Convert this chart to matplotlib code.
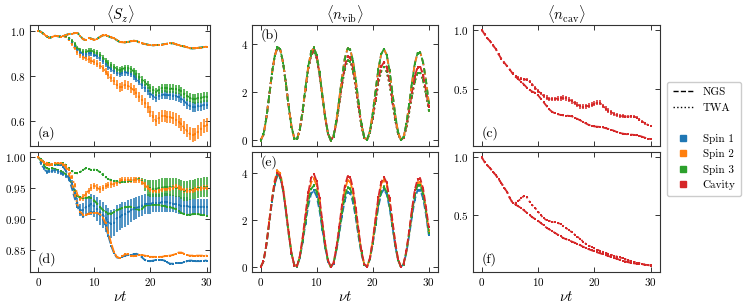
import numpy as np
import matplotlib
matplotlib.use("Agg")
import matplotlib.pyplot as plt
from matplotlib.lines import Line2D

plt.rcParams["font.family"] = "serif"
plt.rcParams["font.serif"] = ["cmr10"]
plt.rcParams["mathtext.fontset"] = "cm"
plt.rcParams["axes.formatter.use_mathtext"] = True

# time grid (nu t), sampled every 0.5
t = np.linspace(0, 30, 61)

labels = ["Spin 1", "Spin 2", "Spin 3", "Cavity"]
colors = ["#1f77b4", "#ff7f0e", "#2ca02c", "#d62728"]

# ---- (a) <S_z>, first case ----
sz_a_ngs = [1.000, 0.995, 0.985, 0.975, 0.968, 0.972, 0.977, 0.975, 0.973, 0.976,
            0.981, 0.985, 0.987, 0.989, 0.990, 0.976, 0.962, 0.958, 0.968, 0.964,
            0.959, 0.964, 0.972, 0.979, 0.979, 0.975, 0.970, 0.966, 0.958, 0.950,
            0.948, 0.948, 0.950, 0.952, 0.955, 0.954, 0.948, 0.943, 0.941, 0.938,
            0.936, 0.935, 0.936, 0.937, 0.938, 0.940, 0.942, 0.943, 0.944, 0.940,
            0.935, 0.932, 0.930, 0.926, 0.922, 0.921, 0.922, 0.924, 0.925, 0.927,
            0.929]
sz_a_twa_spin1 = [1.000, 0.995, 0.985, 0.975, 0.968, 0.972, 0.977, 0.975, 0.973, 0.976,
                  0.974, 0.965, 0.950, 0.933, 0.917, 0.905, 0.898, 0.896, 0.899, 0.899,
                  0.893, 0.886, 0.877, 0.866, 0.853, 0.840, 0.830, 0.820, 0.812, 0.808,
                  0.812, 0.815, 0.813, 0.808, 0.799, 0.787, 0.773, 0.759, 0.746, 0.733,
                  0.720, 0.708, 0.702, 0.710, 0.716, 0.716, 0.714, 0.713, 0.712, 0.709,
                  0.705, 0.697, 0.686, 0.675, 0.667, 0.662, 0.661, 0.664, 0.667, 0.670,
                  0.672]
sz_a_twa_spin2 = [1.000, 0.995, 0.985, 0.975, 0.968, 0.972, 0.977, 0.975, 0.973, 0.975,
                  0.970, 0.958, 0.942, 0.922, 0.905, 0.890, 0.882, 0.877, 0.872, 0.867,
                  0.861, 0.853, 0.845, 0.833, 0.818, 0.802, 0.789, 0.775, 0.760, 0.748,
                  0.752, 0.760, 0.755, 0.746, 0.736, 0.722, 0.707, 0.692, 0.678, 0.660,
                  0.640, 0.618, 0.600, 0.612, 0.622, 0.620, 0.617, 0.615, 0.612, 0.605,
                  0.596, 0.585, 0.570, 0.555, 0.543, 0.536, 0.540, 0.552, 0.565, 0.575,
                  0.580]
sz_a_twa_spin3 = [1.000, 0.995, 0.985, 0.975, 0.968, 0.972, 0.977, 0.975, 0.973, 0.976,
                  0.975, 0.968, 0.955, 0.940, 0.925, 0.914, 0.907, 0.906, 0.910, 0.911,
                  0.905, 0.900, 0.892, 0.880, 0.866, 0.855, 0.846, 0.838, 0.830, 0.825,
                  0.830, 0.834, 0.833, 0.828, 0.820, 0.808, 0.795, 0.782, 0.770, 0.758,
                  0.745, 0.735, 0.729, 0.738, 0.744, 0.745, 0.744, 0.743, 0.742, 0.740,
                  0.737, 0.730, 0.720, 0.710, 0.703, 0.698, 0.697, 0.700, 0.703, 0.706,
                  0.707]
err_a_spin13 = [0, 0, 0, 0, 0, 0, 0, 0, 0, 0.001,
                0.003, 0.005, 0.006, 0.008, 0.009, 0.010, 0.010, 0.011, 0.011, 0.011,
                0.012, 0.012, 0.012, 0.013, 0.013, 0.013, 0.013, 0.014, 0.014, 0.014,
                0.014, 0.015, 0.015, 0.015, 0.016, 0.016, 0.016, 0.017, 0.017, 0.017,
                0.018, 0.018, 0.018, 0.018, 0.019, 0.019, 0.019, 0.019, 0.020, 0.020,
                0.020, 0.020, 0.020, 0.021, 0.021, 0.021, 0.021, 0.021, 0.022, 0.022,
                0.022]
err_a_spin2 = [0, 0, 0, 0, 0, 0, 0, 0, 0, 0.001,
               0.004, 0.006, 0.008, 0.010, 0.011, 0.012, 0.013, 0.013, 0.014, 0.014,
               0.015, 0.015, 0.016, 0.016, 0.017, 0.017, 0.018, 0.018, 0.019, 0.019,
               0.020, 0.020, 0.020, 0.021, 0.021, 0.022, 0.022, 0.023, 0.023, 0.024,
               0.024, 0.025, 0.025, 0.026, 0.026, 0.027, 0.027, 0.027, 0.028, 0.028,
               0.028, 0.029, 0.029, 0.029, 0.030, 0.030, 0.030, 0.031, 0.031, 0.031,
               0.032]

# ---- (d) <S_z>, second case ----
sz_d_ngs_spin1 = [1.000, 0.996, 0.991, 0.988, 0.987, 0.988, 0.988, 0.988, 0.987, 0.984,
                  0.977, 0.965, 0.950, 0.934, 0.920, 0.910, 0.905, 0.906, 0.909, 0.911,
                  0.911, 0.910, 0.907, 0.900, 0.889, 0.873, 0.857, 0.845, 0.838, 0.837,
                  0.839, 0.841, 0.842, 0.842, 0.843, 0.844, 0.842, 0.838, 0.834, 0.832,
                  0.832, 0.833, 0.834, 0.834, 0.834, 0.833, 0.830, 0.828, 0.828, 0.829,
                  0.829, 0.829, 0.830, 0.832, 0.833, 0.833, 0.832, 0.832, 0.832, 0.833,
                  0.833]
sz_d_ngs_spin2 = [1.000, 0.996, 0.991, 0.988, 0.987, 0.988, 0.989, 0.990, 0.990, 0.988,
                  0.983, 0.973, 0.958, 0.940, 0.924, 0.912, 0.907, 0.907, 0.909, 0.910,
                  0.910, 0.910, 0.908, 0.903, 0.893, 0.878, 0.861, 0.847, 0.839, 0.837,
                  0.840, 0.843, 0.843, 0.841, 0.840, 0.841, 0.842, 0.842, 0.841, 0.840,
                  0.839, 0.839, 0.839, 0.839, 0.839, 0.840, 0.841, 0.841, 0.842, 0.844,
                  0.846, 0.846, 0.844, 0.842, 0.841, 0.841, 0.841, 0.841, 0.841, 0.841,
                  0.841]
sz_d_ngs_spin3 = [1.000, 0.994, 0.987, 0.982, 0.981, 0.982, 0.981, 0.979, 0.977, 0.975,
                  0.972, 0.966, 0.957, 0.945, 0.937, 0.935, 0.934, 0.934, 0.935, 0.934,
                  0.930, 0.925, 0.920, 0.915, 0.911, 0.909, 0.909, 0.911, 0.914, 0.916,
                  0.918, 0.919, 0.920, 0.920, 0.918, 0.916, 0.915, 0.917, 0.921, 0.923,
                  0.923, 0.923, 0.923, 0.923, 0.922, 0.921, 0.920, 0.919, 0.918, 0.916,
                  0.913, 0.910, 0.908, 0.907, 0.907, 0.908, 0.908, 0.908, 0.907, 0.906,
                  0.905]
sz_d_twa_spin1 = [1.000, 0.990, 0.982, 0.976, 0.977, 0.978, 0.979, 0.977, 0.975, 0.973,
                  0.970, 0.966, 0.958, 0.943, 0.926, 0.915, 0.914, 0.919, 0.922, 0.924,
                  0.921, 0.916, 0.911, 0.907, 0.901, 0.896, 0.892, 0.894, 0.901, 0.904,
                  0.906, 0.908, 0.911, 0.914, 0.916, 0.918, 0.920, 0.922, 0.924, 0.925,
                  0.925, 0.926, 0.926, 0.926, 0.927, 0.927, 0.927, 0.926, 0.925, 0.924,
                  0.923, 0.922, 0.921, 0.921, 0.920, 0.920, 0.920, 0.920, 0.920, 0.920,
                  0.920]
sz_d_twa_spin2 = [1.000, 0.996, 0.992, 0.990, 0.989, 0.989, 0.990, 0.990, 0.990, 0.989,
                  0.986, 0.980, 0.968, 0.955, 0.940, 0.933, 0.935, 0.941, 0.946, 0.951,
                  0.954, 0.951, 0.948, 0.950, 0.953, 0.955, 0.956, 0.957, 0.959, 0.962,
                  0.963, 0.963, 0.963, 0.963, 0.963, 0.963, 0.963, 0.960, 0.955, 0.951,
                  0.948, 0.946, 0.946, 0.947, 0.948, 0.949, 0.949, 0.950, 0.951, 0.952,
                  0.951, 0.949, 0.947, 0.946, 0.946, 0.947, 0.948, 0.949, 0.950, 0.951,
                  0.951]
sz_d_twa_spin3 = [1.000, 0.997, 0.993, 0.991, 0.990, 0.989, 0.989, 0.989, 0.990, 0.990,
                  0.987, 0.982, 0.978, 0.975, 0.974, 0.976, 0.980, 0.982, 0.981, 0.980,
                  0.980, 0.979, 0.976, 0.972, 0.968, 0.965, 0.963, 0.962, 0.961, 0.960,
                  0.960, 0.960, 0.961, 0.962, 0.963, 0.964, 0.965, 0.962, 0.955, 0.951,
                  0.950, 0.949, 0.949, 0.950, 0.951, 0.952, 0.952, 0.952, 0.952, 0.951,
                  0.950, 0.948, 0.946, 0.946, 0.947, 0.948, 0.949, 0.950, 0.951, 0.952,
                  0.952]
err_d_spin1 = [0.000, 0.002, 0.003, 0.003, 0.003, 0.003, 0.004, 0.004, 0.004, 0.004,
               0.004, 0.005, 0.005, 0.006, 0.008, 0.010, 0.012, 0.014, 0.015, 0.017,
               0.018, 0.019, 0.020, 0.021, 0.022, 0.022, 0.023, 0.022, 0.022, 0.021,
               0.021, 0.020, 0.020, 0.019, 0.018, 0.018, 0.017, 0.017, 0.016, 0.016,
               0.016, 0.015, 0.015, 0.015, 0.015, 0.015, 0.015, 0.014, 0.014, 0.014,
               0.014, 0.014, 0.014, 0.014, 0.013, 0.013, 0.013, 0.013, 0.013, 0.013,
               0.013]
err_d_spin2 = [0.000, 0.001, 0.001, 0.001, 0.001, 0.001, 0.001, 0.001, 0.001, 0.001,
               0.002, 0.002, 0.003, 0.003, 0.004, 0.004, 0.005, 0.005, 0.005, 0.005,
               0.005, 0.005, 0.005, 0.005, 0.005, 0.005, 0.005, 0.005, 0.005, 0.005,
               0.005, 0.005, 0.005, 0.005, 0.005, 0.005, 0.005, 0.005, 0.005, 0.004,
               0.004, 0.004, 0.004, 0.004, 0.004, 0.004, 0.004, 0.004, 0.004, 0.004,
               0.004, 0.004, 0.004, 0.004, 0.004, 0.004, 0.004, 0.004, 0.004, 0.004,
               0.004]
err_d_spin3 = [0.000, 0.001, 0.001, 0.001, 0.001, 0.001, 0.001, 0.001, 0.001, 0.001,
               0.001, 0.001, 0.001, 0.001, 0.001, 0.001, 0.001, 0.001, 0.001, 0.001,
               0.001, 0.001, 0.002, 0.002, 0.002, 0.002, 0.002, 0.002, 0.002, 0.002,
               0.002, 0.002, 0.002, 0.002, 0.002, 0.003, 0.003, 0.005, 0.010, 0.013,
               0.014, 0.014, 0.014, 0.015, 0.015, 0.015, 0.015, 0.015, 0.015, 0.015,
               0.015, 0.016, 0.016, 0.016, 0.016, 0.016, 0.016, 0.016, 0.016, 0.016,
               0.016]
err_d_ngs = 0.0015

# ---- (b) <n_vib>, first case ----
nvib_b_ngs_spins = [0.00, 0.24, 0.90, 1.81, 2.76, 3.51, 3.88, 3.78, 3.23, 2.36,
                    1.40, 0.57, 0.08, 0.05, 0.47, 1.26, 2.21, 3.08, 3.68, 3.85,
                    3.54, 2.84, 1.91, 0.99, 0.30, 0.00, 0.18, 0.80, 1.67, 2.60,
                    3.39, 3.81, 3.77, 3.27, 2.46, 1.50, 0.65, 0.12, 0.02, 0.39,
                    1.12, 2.06, 2.94, 3.58, 3.80, 3.55, 2.90, 2.00, 1.08, 0.36,
                    0.02, 0.13, 0.67, 1.49, 2.39, 3.18, 3.63, 3.64, 3.23, 2.49,
                    1.57]
nvib_b_cav = [0.00, 0.24, 0.90, 1.81, 2.76, 3.51, 3.88, 3.78, 3.23, 2.36,
              1.40, 0.57, 0.08, 0.05, 0.46, 1.23, 2.15, 3.00, 3.59, 3.75,
              3.45, 2.77, 1.86, 0.97, 0.29, 0.00, 0.16, 0.72, 1.52, 2.37,
              3.08, 3.47, 3.43, 2.98, 2.23, 1.36, 0.60, 0.11, 0.02, 0.33,
              0.96, 1.76, 2.52, 3.06, 3.25, 3.04, 2.48, 1.71, 0.92, 0.31,
              0.01, 0.11, 0.56, 1.25, 2.00, 2.67, 3.04, 3.05, 2.71, 2.08,
              1.40]
nvib_b_twa_spins = [0.00, 0.24, 0.90, 1.81, 2.76, 3.51, 3.88, 3.78, 3.23, 2.36,
                    1.40, 0.57, 0.08, 0.05, 0.46, 1.21, 2.12, 2.96, 3.54, 3.70,
                    3.40, 2.73, 1.84, 0.95, 0.29, 0.00, 0.15, 0.69, 1.45, 2.26,
                    2.95, 3.32, 3.28, 2.85, 2.14, 1.30, 0.57, 0.10, 0.02, 0.31,
                    0.90, 1.65, 2.36, 2.87, 3.05, 2.85, 2.33, 1.61, 0.86, 0.29,
                    0.01, 0.10, 0.51, 1.15, 1.84, 2.45, 2.80, 2.80, 2.49, 1.92,
                    1.25]

# ---- (e) <n_vib>, second case ----
nvib_e_spin1 = [0.00, 0.24, 0.90, 1.81, 2.76, 3.51, 3.88, 3.78, 3.23, 2.36,
                1.40, 0.57, 0.08, 0.04, 0.40, 1.06, 1.86, 2.60, 3.11, 3.25,
                2.99, 2.40, 1.61, 0.84, 0.25, 0.00, 0.15, 0.66, 1.39, 2.16,
                2.82, 3.17, 3.13, 2.72, 2.04, 1.24, 0.54, 0.10, 0.02, 0.34,
                0.98, 1.79, 2.55, 3.11, 3.30, 3.08, 2.52, 1.74, 0.93, 0.31,
                0.01, 0.11, 0.60, 1.33, 2.14, 2.86, 3.26, 3.26, 2.90, 2.23,
                1.37]
nvib_e_spin2 = [0.00, 0.25, 0.94, 1.91, 2.90, 3.69, 4.08, 3.97, 3.39, 2.48,
                1.47, 0.60, 0.08, 0.05, 0.46, 1.23, 2.15, 3.00, 3.59, 3.75,
                3.45, 2.77, 1.86, 0.97, 0.29, 0.00, 0.17, 0.77, 1.61, 2.50,
                3.26, 3.66, 3.62, 3.15, 2.36, 1.44, 0.63, 0.11, 0.02, 0.38,
                1.10, 2.00, 2.86, 3.48, 3.70, 3.46, 2.82, 1.95, 1.05, 0.35,
                0.01, 0.12, 0.66, 1.47, 2.36, 3.14, 3.58, 3.59, 3.19, 2.45,
                1.55]
nvib_e_spin3 = [0.00, 0.24, 0.91, 1.84, 2.80, 3.56, 3.93, 3.82, 3.27, 2.39,
                1.41, 0.58, 0.08, 0.04, 0.43, 1.13, 1.98, 2.77, 3.31, 3.46,
                3.18, 2.55, 1.72, 0.89, 0.27, 0.00, 0.16, 0.70, 1.47, 2.29,
                2.98, 3.36, 3.32, 2.88, 2.16, 1.32, 0.58, 0.10, 0.02, 0.35,
                1.01, 1.84, 2.63, 3.20, 3.40, 3.18, 2.59, 1.79, 0.96, 0.32,
                0.01, 0.12, 0.64, 1.42, 2.28, 3.04, 3.46, 3.47, 3.08, 2.37,
                1.45]
nvib_e_cav = [0.00, 0.24, 0.92, 1.86, 2.83, 3.60, 3.98, 3.87, 3.31, 2.42,
              1.43, 0.58, 0.08, 0.05, 0.49, 1.29, 2.26, 3.16, 3.78, 3.95,
              3.63, 2.92, 1.96, 1.02, 0.31, 0.00, 0.18, 0.80, 1.68, 2.62,
              3.41, 3.84, 3.80, 3.30, 2.48, 1.51, 0.66, 0.12, 0.02, 0.39,
              1.13, 2.07, 2.96, 3.59, 3.82, 3.57, 2.91, 2.01, 1.08, 0.36,
              0.02, 0.13, 0.68, 1.53, 2.45, 3.27, 3.73, 3.74, 3.32, 2.55,
              1.70]
err_nvib = 0.06

# ---- (c) and (f) <n_cav> ----
ncav_c_twa = [1.000, 0.965, 0.930, 0.905, 0.870, 0.840, 0.795, 0.755, 0.725, 0.695,
              0.665, 0.635, 0.612, 0.598, 0.590, 0.585, 0.580, 0.565, 0.540, 0.510,
              0.485, 0.465, 0.445, 0.430, 0.420, 0.418, 0.420, 0.422, 0.425, 0.430,
              0.425, 0.412, 0.400, 0.385, 0.370, 0.358, 0.352, 0.355, 0.362, 0.370,
              0.378, 0.385, 0.385, 0.360, 0.338, 0.320, 0.305, 0.292, 0.282, 0.275,
              0.272, 0.270, 0.270, 0.271, 0.270, 0.262, 0.245, 0.228, 0.213, 0.200,
              0.192]
ncav_c_ngs = [1.000, 0.965, 0.930, 0.905, 0.870, 0.840, 0.795, 0.755, 0.725, 0.695,
              0.665, 0.632, 0.605, 0.585, 0.565, 0.540, 0.515, 0.495, 0.480, 0.470,
              0.450, 0.420, 0.390, 0.360, 0.330, 0.310, 0.298, 0.290, 0.284, 0.280,
              0.278, 0.276, 0.272, 0.262, 0.250, 0.238, 0.225, 0.212, 0.200, 0.192,
              0.187, 0.185, 0.183, 0.178, 0.172, 0.166, 0.160, 0.150, 0.140, 0.132,
              0.127, 0.123, 0.120, 0.118, 0.116, 0.113, 0.108, 0.100, 0.092, 0.085,
              0.080]
err_c_twa = [0.000, 0.008, 0.008, 0.008, 0.008, 0.008, 0.008, 0.008, 0.008, 0.008,
             0.008, 0.009, 0.010, 0.010, 0.010, 0.011, 0.012, 0.012, 0.013, 0.014,
             0.015, 0.016, 0.017, 0.018, 0.018, 0.019, 0.019, 0.020, 0.020, 0.020,
             0.020, 0.020, 0.020, 0.020, 0.020, 0.020, 0.020, 0.021, 0.021, 0.021,
             0.021, 0.021, 0.021, 0.020, 0.020, 0.019, 0.018, 0.018, 0.017, 0.016,
             0.016, 0.015, 0.015, 0.014, 0.014, 0.013, 0.013, 0.012, 0.012, 0.011,
             0.011]
ncav_f_twa = [1.000, 0.960, 0.930, 0.905, 0.875, 0.845, 0.810, 0.775, 0.735, 0.700,
              0.645, 0.605, 0.605, 0.620, 0.645, 0.665, 0.655, 0.615, 0.585, 0.560,
              0.530, 0.500, 0.470, 0.455, 0.448, 0.442, 0.438, 0.432, 0.420, 0.402,
              0.385, 0.370, 0.350, 0.330, 0.312, 0.292, 0.270, 0.250, 0.235, 0.222,
              0.210, 0.200, 0.190, 0.180, 0.170, 0.162, 0.155, 0.147, 0.140, 0.132,
              0.124, 0.116, 0.108, 0.100, 0.094, 0.088, 0.082, 0.076, 0.071, 0.066,
              0.062]
ncav_f_ngs = [1.000, 0.960, 0.930, 0.905, 0.875, 0.845, 0.810, 0.775, 0.735, 0.700,
              0.645, 0.605, 0.590, 0.575, 0.560, 0.540, 0.520, 0.500, 0.480, 0.465,
              0.450, 0.430, 0.410, 0.390, 0.375, 0.360, 0.345, 0.330, 0.315, 0.300,
              0.290, 0.280, 0.270, 0.260, 0.250, 0.238, 0.225, 0.213, 0.203, 0.194,
              0.185, 0.176, 0.168, 0.160, 0.152, 0.144, 0.136, 0.128, 0.120, 0.112,
              0.104, 0.097, 0.090, 0.085, 0.081, 0.078, 0.075, 0.072, 0.069, 0.066,
              0.063]
err_ncav_ngs = 0.004
err_f_twa = 0.006

W, H = 747, 307
fig = plt.figure(figsize=(W / 100, H / 100), dpi=100)


def make_ax(left, top, right, bottom):
    ax = fig.add_axes([left / W, 1 - bottom / H, (right - left) / W, (bottom - top) / H])
    ax.tick_params(direction="in", top=True, right=True, labelsize=8, length=3.5,
                   width=0.7, color="#333333", pad=3)
    for s in ax.spines.values():
        s.set_linewidth(0.8)
        s.set_color("#333333")
    return ax


def curve(ax, y, err, c, ls, ms=2.0):
    # line + dense small square markers + vertical error bars
    ax.errorbar(t, y, yerr=err, color=c, ls=ls, lw=1.3, marker="s", ms=ms, mew=0,
                elinewidth=1.1, capsize=0)


ax_a = make_ax(30, 25, 210, 146)
ax_d = make_ax(30, 152, 210, 272)
ax_b = make_ax(252, 25, 438, 146)
ax_e = make_ax(252, 152, 438, 272)
ax_c = make_ax(473, 25, 660, 146)
ax_f = make_ax(473, 152, 660, 272)

# (a)
curve(ax_a, sz_a_twa_spin2, err_a_spin2, colors[1], ":")
curve(ax_a, sz_a_twa_spin1, err_a_spin13, colors[0], ":")
curve(ax_a, sz_a_twa_spin3, err_a_spin13, colors[2], ":")
curve(ax_a, sz_a_ngs, 0.002, colors[0], "--")
curve(ax_a, sz_a_ngs, 0.002, colors[2], "--")
curve(ax_a, sz_a_ngs, 0.002, colors[1], (3, (3, 3)), ms=1.5)

# (d)
curve(ax_d, sz_d_ngs_spin3, err_d_ngs, colors[2], "--")
curve(ax_d, sz_d_ngs_spin1, err_d_ngs, colors[0], "--")
curve(ax_d, sz_d_ngs_spin2, err_d_ngs, colors[1], "--")
curve(ax_d, sz_d_twa_spin1, err_d_spin1, colors[0], ":")
curve(ax_d, sz_d_twa_spin3, err_d_spin3, colors[2], ":")
curve(ax_d, sz_d_twa_spin2, err_d_spin2, colors[1], ":")

# (b)
for c in colors[:3]:
    curve(ax_b, nvib_b_twa_spins, err_nvib, c, ":")
curve(ax_b, nvib_b_cav, err_nvib, colors[3], ":")
curve(ax_b, nvib_b_cav, err_nvib, colors[3], "--")
curve(ax_b, nvib_b_ngs_spins, err_nvib, colors[0], "--")
curve(ax_b, nvib_b_ngs_spins, err_nvib, colors[1], "--")
curve(ax_b, nvib_b_ngs_spins, err_nvib, colors[2], (3, (3, 3)), ms=1.5)

# (e)
curve(ax_e, nvib_e_spin1, err_nvib, colors[0], "--")
curve(ax_e, nvib_e_spin2, err_nvib, colors[1], "--")
curve(ax_e, nvib_e_spin3, err_nvib, colors[2], "--")
curve(ax_e, nvib_e_cav, err_nvib, colors[3], "--")

# (c), (f)
curve(ax_c, ncav_c_ngs, err_ncav_ngs, colors[3], "--")
curve(ax_c, ncav_c_twa, err_c_twa, colors[3], ":")
curve(ax_f, ncav_f_ngs, err_ncav_ngs, colors[3], "--")
curve(ax_f, ncav_f_twa, err_f_twa, colors[3], ":")

# axes limits / ticks
for ax in (ax_a, ax_d):
    ax.set_xlim(-1.45, 30.6)
for ax in (ax_b, ax_e, ax_c, ax_f):
    ax.set_xlim(-1.55, 31.65)
for ax in (ax_a, ax_b, ax_c, ax_d, ax_e, ax_f):
    ax.set_xticks([0, 10, 20, 30])
for ax in (ax_a, ax_b, ax_c):
    ax.tick_params(labelbottom=False)

ax_a.set_ylim(0.488, 1.025)
ax_a.set_yticks([0.6, 0.8, 1.0])
ax_d.set_ylim(0.8145, 1.0085)
ax_d.set_yticks([0.85, 0.90, 0.95, 1.00])
ax_b.set_ylim(-0.24, 4.8)
ax_e.set_ylim(-0.21, 4.88)
ax_b.set_yticks([0, 2, 4])
ax_e.set_yticks([0, 2, 4])
ax_c.set_ylim(0.022, 1.042)
ax_f.set_ylim(0.006, 1.046)
ax_c.set_yticks([0.5, 1.0])
ax_f.set_yticks([0.5, 1.0])

ax_a.set_title(r"$\langle S_z \rangle$", fontsize=10.5, pad=4)
ax_b.set_title(r"$\langle n_{\rm vib} \rangle$", fontsize=10.5, pad=4)
ax_c.set_title(r"$\langle n_{\rm cav} \rangle$", fontsize=10.5, pad=4)
for ax in (ax_d, ax_e, ax_f):
    ax.set_xlabel(r"$\nu t$", fontsize=10.5, labelpad=1)

for ax, lab in ((ax_a, "(a)"), (ax_c, "(c)"), (ax_d, "(d)"), (ax_f, "(f)")):
    ax.text(0.045, 0.05, lab, transform=ax.transAxes, fontsize=10, ha="left", va="bottom")
for ax, lab in ((ax_b, "(b)"), (ax_e, "(e)")):
    ax.text(0.045, 0.97, lab, transform=ax.transAxes, fontsize=10, ha="left", va="top")

handles = [Line2D([], [], color="k", ls="--", lw=1.0),
           Line2D([], [], color="k", ls=":", lw=1.0),
           Line2D([], [], color="none")]
handles += [Line2D([], [], color=c, marker="s", ls="none", markersize=4) for c in colors]
leg_labels = ["NGS", "TWA", ""] + labels
fig.legend(handles, leg_labels, loc="upper left", bbox_to_anchor=(667 / W, 1 - 82 / H),
           borderaxespad=0, fontsize=8, handlelength=1.9, handletextpad=0.8,
           labelspacing=0.5, borderpad=0.5, frameon=True, edgecolor="#cccccc",
           framealpha=1)

fig.savefig("out.png", dpi=100)
